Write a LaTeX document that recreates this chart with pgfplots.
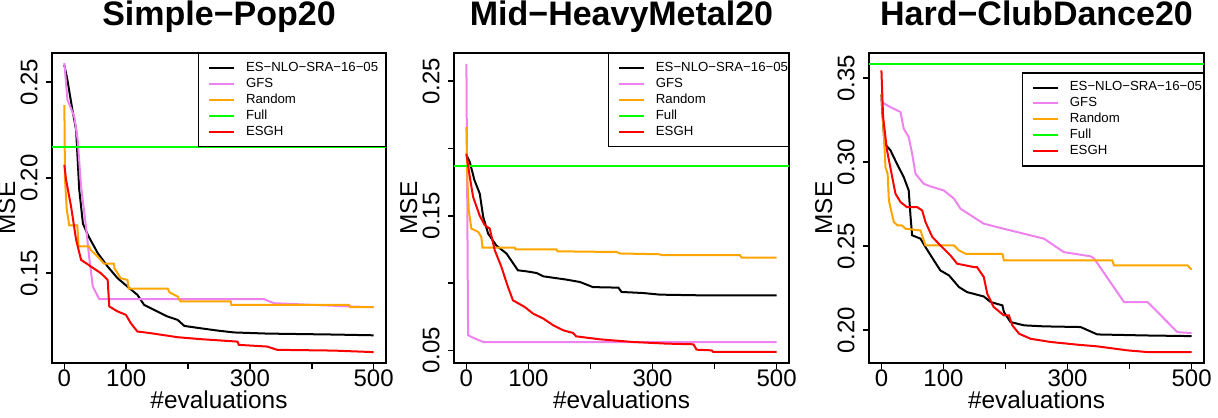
\documentclass[border=0pt]{standalone}
\usepackage{fontspec}
\setmainfont{Liberation Sans}
\usepackage{pgfplots}
\pgfplotsset{compat=1.18}
\definecolor{rviolet}{HTML}{EE82EE}
\definecolor{rorange}{HTML}{FFA500}
\definecolor{rgreen}{HTML}{00FF00}
\pgfplotsset{
  rstyle/.style={
    scale only axis, height=155pt,
    xmin=-20, xmax=520,
    axis line style={line width=0.8pt},
    tick align=outside, major tick length=3pt,
    tick style={line width=0.8pt, black},
    xtick pos=left, ytick pos=left,
    xtick={0,100,200,300,400,500}, xticklabels={0,100,,300,,500},
    /pgf/number format/assume math mode=true,
    tick label style={font=\fontsize{12}{14}\selectfont},
    xticklabel style={inner sep=0pt, anchor=north},
    yticklabel style={inner sep=0pt, xshift=-4pt, rotate=90, anchor=south},
    xlabel={\#evaluations}, ylabel={MSE},
    every axis x label/.style={at={(axis description cs:0.5,0)}, anchor=base, yshift=-22.65pt, font=\fontsize{12.2}{14}\selectfont},
    every axis y label/.style={at={(axis description cs:0,0.5)}, xshift=-18.5pt, rotate=90, anchor=base, font=\fontsize{12.2}{14}\selectfont},
    title style={at={(axis description cs:0.5,1)}, anchor=base, yshift=7.5pt, font=\bfseries\fontsize{17}{19}\selectfont},
    legend cell align=left,
    legend style={draw=black, line width=0.7pt, fill=white, inner xsep=0pt, inner ysep=4.3pt,
      font=\fontsize{6.6}{7.5}\selectfont, row sep=1.75pt, column sep=2.85pt, nodes={inner sep=0pt}},
    legend image code/.code={\path[draw=none,fill=none] (0pt,-1pt) rectangle (21pt,1pt); \draw[##1] (5.5pt,0pt) -- (18pt,0pt);},
  },
  lblack/.style={black, line width=1pt},
  lgfs/.style={rviolet, line width=1pt},
  lrand/.style={rorange, line width=1pt},
  lfull/.style={rgreen, line width=1pt},
  lesgh/.style={red, line width=1pt},
}
\begin{document}
\begin{tikzpicture}
\useasboundingbox (0pt,0pt) rectangle (609pt,208.5pt);
% ---------------- Panel 1
\begin{axis}[rstyle, at={(26pt,27pt)}, anchor=south west, width=167pt,
  ymin=0.1030, ymax=0.2653, ytick={0.15,0.20,0.25}, yticklabels={0.15,0.20,0.25},
  title={Simple−Pop20},
  legend style={at={(1,1)}, anchor=north east}]
\addplot[lblack] coordinates {(0,0.259) (5,0.251) (13,0.2355) (19,0.225) (24,0.194) (30,0.176) (38,0.170) (43,0.167) (54,0.1605) (70,0.1535) (86,0.1474) (102,0.143) (118,0.1387) (129,0.1334) (150,0.130) (167,0.1273) (183,0.1256) (194,0.1224) (220,0.1212) (247,0.120) (274,0.119) (328,0.1184) (435,0.1179) (500,0.1175)};
\addlegendentry{\makebox[69.6pt][l]{ES−NLO−SRA−16−05}}
\addplot[lgfs] coordinates {(0,0.260) (5,0.2408) (16,0.232) (21.5,0.220) (27,0.1954) (35,0.1744) (40,0.1587) (46,0.143) (56.5,0.1364) (323,0.1364) (339,0.1343) (462,0.1326) (500,0.1322)};
\addlegendentry{GFS}
\addplot[lrand] coordinates {(0,0.238) (1,0.199) (4,0.183) (8,0.175) (21,0.175) (23,0.164) (40,0.164) (43,0.162) (54,0.1587) (64,0.155) (80,0.155) (81,0.1526) (86,0.150) (91,0.1474) (102,0.1465) (104,0.142) (167,0.142) (170,0.140) (183,0.1378) (188,0.1352) (269,0.1352) (270,0.1334) (460,0.1334) (462,0.1322) (500,0.1322)};
\addlegendentry{Random}
\addplot[lfull] coordinates {(-20,0.2163) (520,0.2163)};
\addlegendentry{Full}
\addplot[lesgh] coordinates {(0,0.2067) (2.7,0.199) (10.8,0.185) (19,0.1675) (27,0.157) (43,0.1535) (59,0.150) (70,0.1465) (72.6,0.1326) (86,0.130) (99.5,0.1282) (107.5,0.1238) (118,0.1195) (140,0.1186) (183,0.1165) (220,0.1155) (280,0.1142) (282,0.1125) (328,0.1116) (344,0.1099) (435,0.1095) (500,0.1087)};
\addlegendentry{ESGH}
\end{axis}
% ---------------- Panel 2
\begin{axis}[rstyle, at={(227pt,27pt)}, anchor=south west, width=167.5pt,
  ymin=0.0406, ymax=0.2710, ytick={0.05,0.10,0.15,0.20,0.25}, yticklabels={0.05,,0.15,,0.25},
  title={Mid−HeavyMetal20},
  legend style={at={(1,1)}, anchor=north east}]
\addplot[lblack] coordinates {(0,0.195) (5.4,0.190) (13,0.1764) (21.5,0.1665) (27,0.1493) (35,0.1368) (48,0.128) (64.5,0.122) (83,0.1095) (97,0.1087) (113,0.1075) (124,0.105) (161,0.1026) (183,0.1008) (204,0.097) (245,0.0966) (250,0.0934) (285,0.0926) (312,0.0914) (376,0.0909) (500,0.0909)};
\addlegendentry{\makebox[66.2pt][l]{ES−NLO−SRA−16−05}}
\addplot[lgfs] coordinates {(0,0.263) (2.7,0.0612) (10.8,0.0594) (27,0.0562) (500,0.0562)};
\addlegendentry{GFS}
\addplot[lrand] coordinates {(0,0.216) (1.6,0.1764) (3.8,0.154) (8,0.1405) (19,0.138) (24,0.1343) (26,0.1263) (78,0.1263) (79,0.1250) (145,0.1250) (147,0.1236) (242,0.1231) (247,0.1220) (312,0.1214) (315,0.1207) (441,0.1207) (443.5,0.1190) (500,0.1190)};
\addlegendentry{Random}
\addplot[lfull] coordinates {(-20,0.1868) (520,0.1868)};
\addlegendentry{Full}
\addplot[lesgh] coordinates {(0,0.1962) (5.4,0.179) (10.8,0.164) (21.5,0.150) (29.6,0.143) (37.6,0.1405) (45.7,0.1244) (56.4,0.112) (67,0.0971) (75,0.0872) (94,0.0822) (107.5,0.0773) (124,0.0736) (140,0.0686) (156,0.0649) (172,0.0629) (177,0.0604) (215,0.0582) (269,0.0562) (323,0.055) (366,0.0545) (371,0.0505) (395,0.050) (398,0.0488) (500,0.0488)};
\addlegendentry{ESGH}
\end{axis}
% ---------------- Panel 3
\begin{axis}[rstyle, at={(434.5pt,27pt)}, anchor=south west, width=167.5pt,
  ymin=0.1804, ymax=0.3649, ytick={0.20,0.25,0.30,0.35}, yticklabels={0.20,0.25,0.30,0.35},
  title={Hard−ClubDance20},
  legend style={at={(1,0.9377)}, anchor=north east}]
\addplot[lblack] coordinates {(0,0.340) (1,0.3327) (5,0.311) (14.5,0.307) (25,0.299) (36,0.291) (44,0.2831) (47,0.2673) (49.5,0.2564) (63,0.2544) (71,0.2494) (84.5,0.2415) (95,0.2355) (109,0.2325) (125,0.2256) (138,0.2226) (165,0.22) (176,0.2167) (195,0.2147) (197.5,0.2107) (208,0.2048) (230,0.2028) (262,0.2022) (321,0.2018) (348,0.1974) (424,0.1968) (500,0.1964)};
\addlegendentry{\makebox[66.7pt][l]{ES−NLO−SRA−16−05}}
\addplot[lgfs] coordinates {(0,0.3357) (14.5,0.3327) (30.7,0.3298) (36,0.3198) (44,0.3149) (49.5,0.305) (55,0.293) (68,0.2871) (79,0.2855) (100.6,0.2831) (117,0.2782) (127.5,0.2722) (165,0.2633) (208,0.2593) (262,0.2544) (294,0.2464) (337,0.2439) (343,0.2425) (391,0.2167) (429,0.2167) (477,0.1988) (500,0.1982)};
\addlegendentry{GFS}
\addplot[lrand] coordinates {(0,0.3407) (3.8,0.3169) (6.5,0.297) (10,0.293) (12,0.2772) (15.6,0.2712) (20,0.2643) (26,0.2623) (33,0.2623) (39,0.2603) (63,0.2593) (71,0.2504) (117,0.2504) (125,0.2474) (135.6,0.2454) (195,0.2454) (197.5,0.2415) (372,0.2415) (375,0.2385) (493.5,0.2385) (500,0.2359)};
\addlegendentry{Random}
\addplot[lfull] coordinates {(-20,0.3585) (520,0.3585)};
\addlegendentry{Full}
\addplot[lesgh] coordinates {(0,0.3546) (2.7,0.3268) (9,0.307) (22.6,0.2812) (30.7,0.2762) (41,0.2732) (57.6,0.2732) (65.7,0.2712) (71,0.2643) (82,0.2554) (95,0.2504) (111.4,0.2444) (122,0.2395) (149,0.2375) (154,0.2375) (165,0.2316) (170.6,0.2216) (181,0.2137) (197.5,0.2087) (205.6,0.2087) (211,0.2028) (222,0.1978) (240.6,0.1948) (273,0.1929) (316,0.1913) (348,0.1903) (397,0.1879) (429,0.1869) (500,0.1869)};
\addlegendentry{ESGH}
\end{axis}
\end{tikzpicture}
\end{document}
